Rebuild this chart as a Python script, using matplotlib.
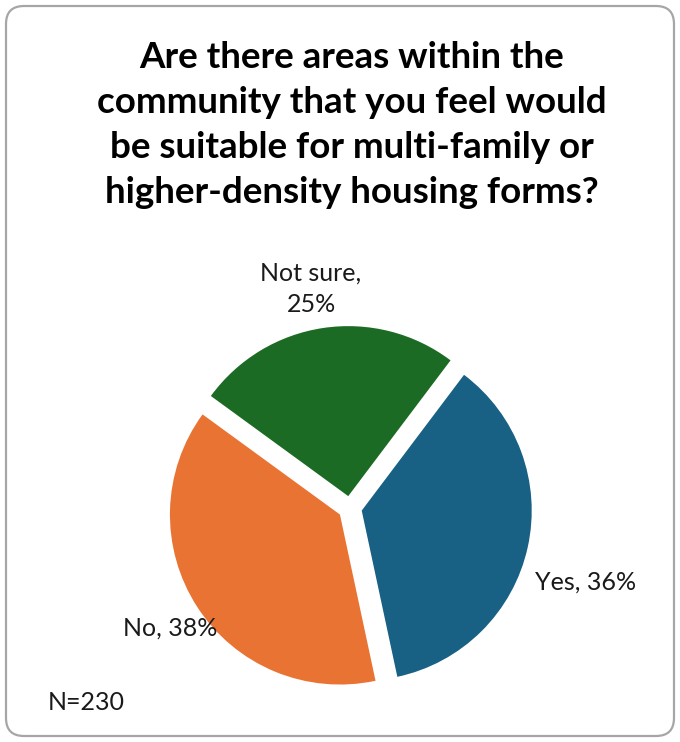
import matplotlib.pyplot as plt
from matplotlib.patches import FancyBboxPatch

# survey answers, clockwise from the first slice
answers = ['Yes', 'No', 'Not sure']
shares = [36, 38, 25]
colors = ['#186084', '#e97333', '#1c6b25']
title = ('Are there areas within the\ncommunity that you feel would\n'
         'be suitable for multi-family or\nhigher-density housing forms?')
n_note = 'N=230'

plt.rcParams['font.family'] = ['Lato', 'DejaVu Sans']

W, H = 680, 742
fig = plt.figure(figsize=(W / 100, H / 100), dpi=100)
ax = fig.add_axes([0, 0, 1, 1])

# rounded chart frame
frame = FancyBboxPatch((6, 6), W - 12, H - 12, boxstyle='round,pad=0,rounding_size=18',
                       facecolor='white', edgecolor='#a6a6a6', linewidth=1.6)
ax.add_patch(frame)

cx, cy, r = 350, H - 508, 170
wedges, _ = ax.pie(shares, colors=colors, startangle=53, counterclock=False,
                   center=(cx, cy), radius=r, explode=[12, 12, 12],
                   wedgeprops=dict(linewidth=0))

ax.set_xlim(0, W)
ax.set_ylim(0, H)
ax.set_aspect('equal')
ax.axis('off')

ax.text(W / 2 + 12, H - 125, title, ha='center', va='center', fontsize=26.5,
        fontweight='bold', linespacing=1.45, color='black')

label_pos = {'Yes': (586, H - 582), 'No': (170, H - 628), 'Not sure': (311, H - 289)}
for name, val in zip(answers, shares):
    if name == 'Not sure':
        txt = f'{name},\n{val}%'
    else:
        txt = f'{name}, {val}%'
    x, y = label_pos[name]
    ax.text(x, y, txt, ha='center', va='center', fontsize=18, linespacing=1.45,
            color='#1a1a1a')

ax.text(48, H - 703, n_note, ha='left', va='center', fontsize=18, color='#1a1a1a')

fig.savefig('out.png', dpi=100)
